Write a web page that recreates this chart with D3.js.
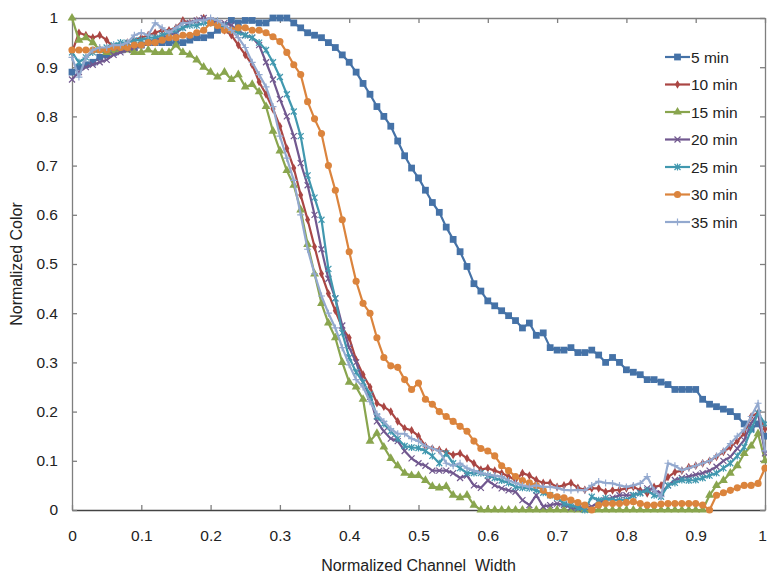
<!DOCTYPE html>
<html>
<head>
<meta charset="utf-8">
<script src="https://cdn.jsdelivr.net/npm/d3@7"></script>
<style>
  body { margin: 0; background: #fff; }
  text { font-family: "Liberation Sans", Arial, sans-serif; fill: #222; }
</style>
</head>
<body>
<script>
// series names and x positions (normalized channel width, step 0.01)
const seriesNames = ["5 min", "10 min", "15 min", "20 min", "25 min", "30 min", "35 min"];
const xTicks = [0, 0.1, 0.2, 0.3, 0.4, 0.5, 0.6, 0.7, 0.8, 0.9, 1];
const yTicks = [0, 0.1, 0.2, 0.3, 0.4, 0.5, 0.6, 0.7, 0.8, 0.9, 1];
const xValues = d3.range(101).map(i => i / 100);

const min5 = [.89,.90,.905,.91,.92,.925,.93,.935,.94,.94,.945,.95,.95,.95,.95,.95,.95,.955,.96,.96,
  .965,.975,.985,.995,.99,.995,.995,.99,.99,1.0,1.0,1.0,.99,.98,.97,.965,.96,.95,.94,.925,
  .91,.89,.867,.845,.82,.80,.78,.75,.72,.695,.675,.65,.625,.605,.575,.55,.525,.495,.46,.445,
  .425,.415,.405,.395,.385,.37,.38,.355,.36,.33,.325,.325,.33,.32,.32,.325,.315,.30,.31,.30,
  .285,.28,.275,.265,.265,.26,.255,.245,.245,.245,.245,.225,.215,.21,.205,.20,.19,.175,.165,.175,.15];
const min10 = [.93,.97,.965,.96,.965,.955,.94,.945,.95,.955,.96,.965,.97,.975,.975,.98,.995,.99,.995,1.0,
  .995,.985,.975,.965,.945,.925,.905,.87,.845,.815,.78,.735,.695,.64,.59,.535,.48,.44,.405,.37,
  .35,.305,.275,.25,.217,.21,.20,.18,.166,.162,.15,.13,.125,.122,.118,.112,.115,.105,.095,.082,
  .085,.08,.075,.068,.061,.075,.07,.061,.055,.055,.047,.05,.055,.045,.041,.044,.044,.037,.04,.041,
  .044,.047,.04,.034,.047,.05,.067,.077,.08,.087,.09,.095,.10,.108,.118,.128,.14,.156,.19,.197,.165];
const min15 = [1.0,.955,.96,.95,.935,.93,.93,.935,.935,.93,.93,.935,.93,.93,.93,.945,.93,.925,.915,.90,
  .89,.88,.89,.875,.885,.86,.865,.85,.82,.77,.73,.69,.66,.61,.54,.48,.42,.38,.35,.30,
  .26,.25,.225,.14,.156,.128,.105,.09,.075,.07,.07,.06,.048,.045,.048,.03,.025,.03,.01,0,
  0,0,0,0,0,0,0,0,0,0,0,0,0,0,0,0,0,0,0,0,
  0,0,0,0,0,0,0,0,0,0,0,0,.03,.05,.06,.075,.09,.115,.13,.155,.10];
const min20 = [.875,.89,.90,.905,.91,.915,.925,.93,.935,.94,.945,.95,.955,.96,.965,.97,.98,.99,.995,1.0,
  .995,.99,.99,.985,.975,.965,.96,.945,.91,.875,.835,.80,.76,.705,.66,.60,.53,.47,.43,.375,
  .33,.30,.26,.23,.18,.16,.145,.14,.12,.105,.095,.09,.08,.08,.08,.075,.065,.07,.05,.045,
  .06,.05,.044,.04,.037,.02,.01,.03,.007,.01,.013,.01,.005,.003,.007,.007,.015,.02,.025,.03,
  .03,.03,.035,.044,.04,.034,.05,.061,.065,.068,.072,.075,.08,.088,.10,.108,.125,.142,.176,.197,.115];
const min25 = [.93,.91,.92,.93,.935,.94,.945,.95,.95,.955,.955,.96,.96,.965,.97,.975,.98,.985,.985,.99,
  .99,.985,.985,.975,.97,.965,.96,.95,.935,.91,.88,.845,.81,.76,.68,.635,.59,.49,.43,.36,
  .31,.28,.26,.235,.19,.175,.16,.145,.13,.127,.126,.12,.11,.095,.115,.095,.085,.075,.075,.075,
  .07,.065,.06,.055,.047,.045,.044,.04,.035,.03,.025,.013,.01,.005,0,.027,.02,.024,.02,.02,
  .02,.03,.034,.04,.03,.027,.05,.055,.061,.06,.061,.065,.07,.075,.085,.095,.11,.128,.163,.197,.175];
const min30 = [.935,.935,.935,.935,.935,.935,.94,.94,.94,.945,.945,.95,.95,.955,.96,.96,.965,.965,.97,.975,
  .99,.985,.975,.975,.98,.98,.975,.975,.97,.962,.952,.93,.905,.885,.83,.795,.765,.70,.65,.59,
  .525,.465,.42,.40,.35,.31,.293,.29,.265,.245,.258,.225,.215,.20,.19,.18,.17,.16,.14,.125,
  .12,.11,.09,.08,.068,.06,.055,.05,.04,.03,.027,.025,.02,.015,.01,0,.01,.013,.013,.013,
  .015,.017,.013,.01,.01,.012,.013,.013,.013,.013,.013,.01,0,.03,.035,.04,.045,.05,.05,.054,.085];
const min35 = [.92,.88,.92,.935,.94,.94,.945,.945,.95,.965,.97,.965,.99,.98,.97,.98,.99,.99,.995,.995,
  1.0,.995,.985,.975,.96,.94,.91,.885,.86,.82,.76,.715,.67,.60,.53,.48,.435,.40,.37,.33,
  .295,.265,.25,.22,.195,.18,.165,.155,.155,.145,.14,.13,.125,.12,.095,.09,.095,.085,.08,.075,
  .072,.07,.068,.06,.055,.05,.047,.05,.047,.047,.045,.041,.04,.041,.04,.05,.058,.055,.054,.05,
  .047,.05,.054,.068,.04,.027,.095,.09,.081,.085,.09,.095,.10,.11,.12,.135,.15,.163,.19,.217,.12];

const seriesValues = [min5, min10, min15, min20, min25, min30, min35];
const colors = ["#4572A7", "#AA4643", "#89A54E", "#71588F", "#4198AF", "#DB843D", "#93A9CF"];
const symbols = ["square", "diamond", "triangle", "x", "star", "circle", "plus"];

const width = 767, height = 576;
const margin = { left: 72, right: 2, top: 18, bottom: 66 };

const svg = d3.select("body").append("svg")
  .attr("width", width)
  .attr("height", height);

const x = d3.scaleLinear().domain([0, 1]).range([margin.left, width - margin.right]);
const y = d3.scaleLinear().domain([0, 1]).range([height - margin.bottom, margin.top]);

const axisColor = "#7f7f7f";
const fmt = d => String(+d.toFixed(1));

// frame axes with inside ticks
const axisBottomG = svg.append("g")
  .attr("transform", `translate(0,${y(0)})`)
  .call(d3.axisBottom(x).tickValues(xTicks).tickSizeInner(-5).tickSizeOuter(0).tickPadding(20).tickFormat(fmt));
const axisLeftG = svg.append("g")
  .attr("transform", `translate(${x(0)},0)`)
  .call(d3.axisLeft(y).tickValues(yTicks).tickSizeInner(-5).tickSizeOuter(0).tickPadding(14).tickFormat(fmt));
const axisTopG = svg.append("g")
  .attr("transform", `translate(0,${y(1)})`)
  .call(d3.axisTop(x).tickValues(xTicks).tickSizeInner(-5).tickSizeOuter(0).tickFormat(""));
const axisRightG = svg.append("g")
  .attr("transform", `translate(${x(1)},0)`)
  .call(d3.axisRight(y).tickValues(yTicks).tickSizeInner(-5).tickSizeOuter(0).tickFormat(""));

[axisBottomG, axisLeftG, axisTopG, axisRightG].forEach(g => {
  g.select(".domain").attr("stroke", axisColor).attr("stroke-width", 1.3);
  g.selectAll(".tick line").attr("stroke", axisColor).attr("stroke-width", 1.3);
  g.selectAll(".tick text").style("font-size", "15.5px").attr("fill", "#222")
    .style("font-family", "'Liberation Sans', Arial, sans-serif");
});
axisBottomG.select(".domain").attr("stroke", "#444");
// keep the last x label inside the page
axisBottomG.selectAll(".tick text").filter(d => d === 1).attr("dx", "-3");

svg.append("text")
  .attr("x", (x(0) + x(1)) / 2)
  .attr("y", 571)
  .attr("text-anchor", "middle")
  .style("font-size", "16px")
  .style("white-space", "pre")
  .text("Normalized Channel  Width");

svg.append("text")
  .attr("transform", `translate(22,${(y(0) + y(1)) / 2}) rotate(-90)`)
  .attr("text-anchor", "middle")
  .style("font-size", "16px")
  .text("Normalized Color");

const line = d3.line()
  .x((d, i) => x(xValues[i]))
  .y(d => y(d));

function markerPath(type) {
  switch (type) {
    case "square": return d3.symbol(d3.symbolSquare, 46)();
    case "diamond": return d3.symbol(d3.symbolDiamond, 22)();
    case "triangle": return d3.symbol(d3.symbolTriangle, 34)();
    case "circle": return d3.symbol(d3.symbolCircle, 40)();
    case "x": return "M-3,-3L3,3M-3,3L3,-3";
    case "star": return "M-3,-3L3,3M-3,3L3,-3M0,-3.5L0,3.5";
    case "plus": return "M-3.5,0L3.5,0M0,-3.5L0,3.5";
  }
}

seriesValues.forEach((vals, k) => {
  const g = svg.append("g");
  g.append("path")
    .datum(vals)
    .attr("fill", "none")
    .attr("stroke", colors[k])
    .attr("stroke-width", 2.2)
    .attr("stroke-linejoin", "round")
    .attr("d", line);
  const stroked = ["x", "star", "plus"].includes(symbols[k]);
  g.selectAll("path.m")
    .data(vals)
    .enter()
    .append("path")
    .attr("class", "m")
    .attr("transform", (d, i) => `translate(${x(xValues[i])},${y(d)})`)
    .attr("d", markerPath(symbols[k]))
    .attr("fill", stroked ? "none" : colors[k])
    .attr("stroke", colors[k])
    .attr("stroke-width", stroked ? 1.2 : 0);
});

// legend
const legend = svg.append("g");
seriesNames.forEach((name, k) => {
  const ly = 57 + k * 27.5;
  legend.append("line")
    .attr("x1", 665).attr("x2", 690)
    .attr("y1", ly).attr("y2", ly)
    .attr("stroke", colors[k]).attr("stroke-width", 2.2);
  const stroked = ["x", "star", "plus"].includes(symbols[k]);
  legend.append("path")
    .attr("transform", `translate(677.5,${ly})`)
    .attr("d", markerPath(symbols[k]))
    .attr("fill", stroked ? "none" : colors[k])
    .attr("stroke", colors[k])
    .attr("stroke-width", stroked ? 1.2 : 0);
  legend.append("text")
    .attr("x", 691)
    .attr("y", ly + 5.5)
    .style("font-size", "15.5px")
    .text(name);
});
</script>
</body>
</html>
